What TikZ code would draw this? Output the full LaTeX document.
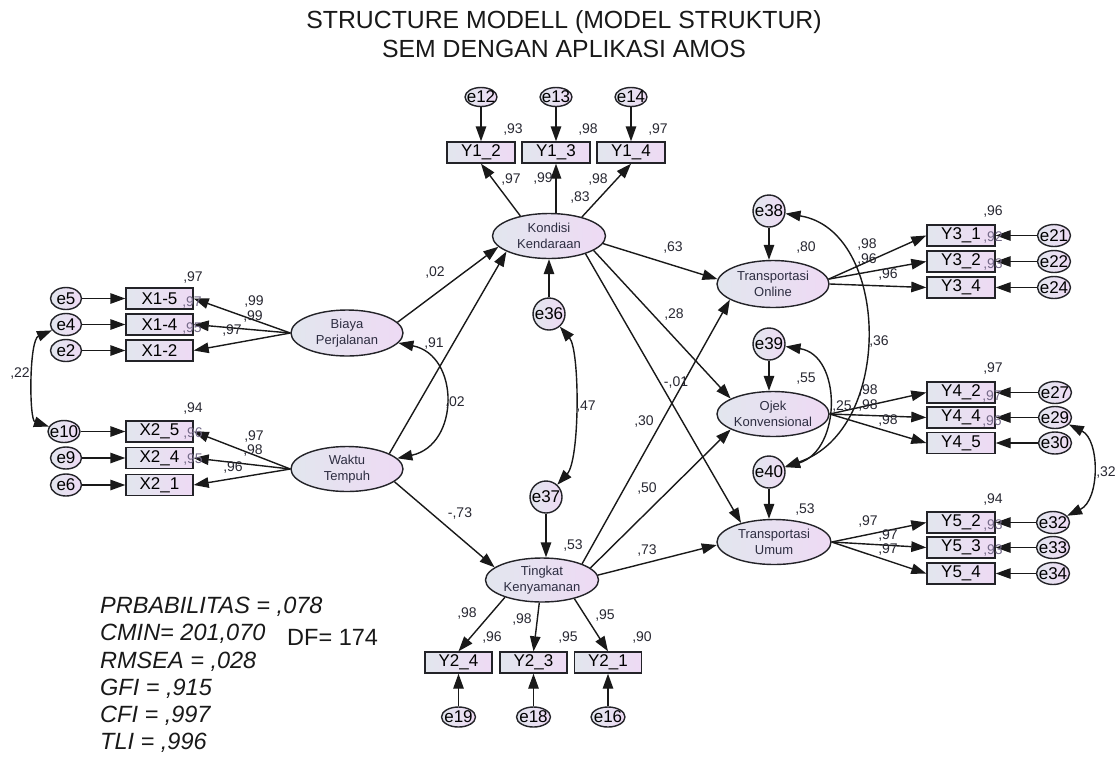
\documentclass[tikz,border=0pt]{standalone}
\usepackage{fontspec}
\setmainfont{Liberation Sans}
\usetikzlibrary{arrows.meta,shapes.geometric}
\definecolor{fillL}{RGB}{226,230,238}
\definecolor{fillR}{RGB}{238,218,244}
\definecolor{edge}{RGB}{35,35,40}
\definecolor{lbl}{RGB}{40,40,50}
\definecolor{latxt}{RGB}{45,45,65}
\definecolor{faint}{RGB}{115,105,135}
\begin{document}
\begin{tikzpicture}[x=1pt,y=-1pt,
  every node/.style={inner sep=0pt},
  obs/.style={rectangle,draw=edge,line width=1.4pt,left color=fillL,right color=fillR,
    minimum width=67pt,minimum height=21pt,font=\fontsize{17}{18}\selectfont},
  lat/.style={ellipse,draw=edge,line width=1.4pt,left color=fillL,right color=fillR,
    minimum width=112pt,minimum height=46pt,align=center,text=latxt,font=\fontsize{13}{16}\selectfont},
  err/.style={ellipse,draw=edge,line width=1.4pt,left color=fillL,right color=fillR,
    minimum width=32pt,minimum height=22pt,font=\fontsize{17}{17}\selectfont},
  errc/.style={err,minimum width=32pt,minimum height=32pt},
  num/.style={text=lbl,font=\fontsize{14}{14}\selectfont},
  fnum/.style={text=faint,font=\fontsize{14}{14}\selectfont},
  arr/.style={draw=black!90,line width=1.4pt,-{Triangle[length=15pt,width=10.5pt]}},
  cov/.style={draw=black!90,line width=1.4pt,{Triangle[length=15pt,width=10.5pt]}-{Triangle[length=15pt,width=10.5pt]}},
  stat/.style={anchor=west,font=\fontsize{23.5}{23.5}\selectfont\itshape,text=black!90}
]
\fill[white] (0,0) rectangle (1118,756);
\useasboundingbox (0,0) rectangle (1118,756);

% title
\node[font=\fontsize{24.8}{26}\selectfont,text=black!90] (t1) at (564,22) {STRUCTURE MODELL (MODEL STRUKTUR)};
\node[font=\fontsize{24.8}{26}\selectfont,text=black!90] (t2) at (564,49) {SEM DENGAN APLIKASI AMOS};

% latent variables
\node[lat] (BP) at (347,333) {Biaya\\Perjalanan};
\node[lat,minimum height=45pt] (WT) at (347,469) {Waktu\\Tempuh};
\node[lat,minimum width=113pt,minimum height=45pt] (KK) at (549,236) {Kondisi\\Kendaraan};
\node[lat,minimum width=113pt,minimum height=44pt] (TK) at (542,580) {Tingkat\\Kenyamanan};
\node[lat,minimum height=47pt] (TO) at (773,284) {Transportasi\\Online};
\node[lat,minimum height=45pt] (OK) at (773,414) {Ojek\\Konvensional};
\node[lat,minimum width=114pt,minimum height=45pt] (TU) at (774,542) {Transportasi\\Umum};

% left observed
\node[obs] (X15) at (159.5,298.5) {X1-5};
\node[obs] (X14) at (159.5,324.5) {X1-4};
\node[obs] (X12) at (159.5,350.5) {X1-2};
\node[obs] (X25) at (159.5,431.5) {X2\_5};
\node[obs] (X24) at (159.5,458) {X2\_4};
\node[obs] (X21) at (159.5,485) {X2\_1};
\node[err,minimum width=31pt] (e5) at (66,298.5) {\makebox[0pt]{e5}};
\node[err,minimum width=31pt] (e4) at (66,324.5) {\makebox[0pt]{e4}};
\node[err,minimum width=31pt] (e2) at (66,350.5) {\makebox[0pt]{e2}};
\node[err,minimum width=32pt] (e10) at (64,431.5) {\makebox[0pt]{e10}};
\node[err,minimum width=31pt] (e9) at (66,458) {\makebox[0pt]{e9}};
\node[err,minimum width=31pt] (e6) at (66,485) {\makebox[0pt]{e6}};

% top observed
\node[obs,minimum width=68pt] (Y12) at (481,152.5) {Y1\_2};
\node[obs,minimum width=68pt] (Y13) at (556,152.5) {Y1\_3};
\node[obs,minimum width=68pt] (Y14) at (631,152.5) {Y1\_4};
\node[err,minimum height=19pt] (e12) at (481,97) {\makebox[0pt]{e12}};
\node[err,minimum height=19pt] (e13) at (556,97) {\makebox[0pt]{e13}};
\node[err,minimum height=19pt] (e14) at (631,97) {\makebox[0pt]{e14}};

% bottom observed
\node[obs] (Y24) at (458.5,662.5) {Y2\_4};
\node[obs] (Y23) at (533.5,662.5) {Y2\_3};
\node[obs] (Y21) at (608,662.5) {Y2\_1};
\node[err,minimum width=34pt,minimum height=20pt] (e19) at (458.5,717) {\makebox[0pt]{e19}};
\node[err,minimum width=34pt,minimum height=20pt] (e18) at (533.5,717) {\makebox[0pt]{e18}};
\node[err,minimum width=34pt,minimum height=20pt] (e16) at (608,717) {\makebox[0pt]{e16}};

% structural errors
\node[errc] (e36) at (549,314) {\makebox[0pt]{e36}};
\node[errc] (e37) at (546,497) {\makebox[0pt]{e37}};
\node[errc] (e38) at (769,211) {\makebox[0pt]{e38}};
\node[errc] (e39) at (769,344) {\makebox[0pt]{e39}};
\node[errc] (e40) at (769,472) {\makebox[0pt]{e40}};

% right observed
\node[obs,minimum width=68pt] (Y31) at (961,235.5) {Y3\_1};
\node[obs,minimum width=68pt] (Y32) at (961,261.5) {Y3\_2};
\node[obs,minimum width=68pt] (Y34) at (961,287.5) {Y3\_4};
\node[obs,minimum width=68pt] (Y42) at (961,392.5) {Y4\_2};
\node[obs,minimum width=68pt] (Y44) at (961,417.5) {Y4\_4};
\node[obs,minimum width=68pt] (Y45) at (961,443) {Y4\_5};
\node[obs,minimum width=68pt] (Y52) at (961,522.5) {Y5\_2};
\node[obs,minimum width=68pt] (Y53) at (961,547.5) {Y5\_3};
\node[obs,minimum width=68pt] (Y54) at (961,573.5) {Y5\_4};
\node[err,minimum width=33pt] (e21) at (1054,235.5) {\makebox[0pt]{e21}};
\node[err,minimum width=33pt] (e22) at (1054,261.5) {\makebox[0pt]{e22}};
\node[err,minimum width=33pt] (e24) at (1054,287.5) {\makebox[0pt]{e24}};
\node[err,minimum width=33pt] (e27) at (1055,392.5) {\makebox[0pt]{e27}};
\node[err,minimum width=33pt] (e29) at (1055,417.5) {\makebox[0pt]{e29}};
\node[err,minimum width=33pt] (e30) at (1055,443) {\makebox[0pt]{e30}};
\node[err,minimum width=33pt] (e32) at (1053,522.5) {\makebox[0pt]{e32}};
\node[err,minimum width=33pt] (e33) at (1053,547.5) {\makebox[0pt]{e33}};
\node[err,minimum width=33pt] (e34) at (1053,573.5) {\makebox[0pt]{e34}};

% measurement arrows: left
\foreach \e/\x in {e5/X15,e4/X14,e2/X12,e10/X25,e9/X24,e6/X21} \draw[arr] (\e) -- (\x);
\foreach \x in {X15,X14,X12} \draw[arr] (BP.west) -- (\x.east);
\foreach \x in {X25,X24,X21} \draw[arr] (WT.west) -- (\x.east);
\draw[cov] (e4) .. controls (29,340) and (29,420) .. (e10);

% top
\foreach \e/\x in {e12/Y12,e13/Y13,e14/Y14} \draw[arr] (\e) -- (\x);
\draw[arr] (KK.145) -- (Y12.south);
\draw[arr] (Y13.south |- KK.north) -- (Y13.south);
\draw[arr] (KK.30) -- (Y14.south);

% bottom
\foreach \e/\x in {e19/Y24,e18/Y23,e16/Y21} \draw[arr] (\e) -- (\x);
\draw[arr] (TK.205) -- (Y24.north);
\draw[arr] (TK) -- (Y23.north);
\draw[arr] (TK.-30) -- (Y21.north);

% right
\foreach \e/\x in {e21/Y31,e22/Y32,e24/Y34,e27/Y42,e29/Y44,e30/Y45,e32/Y52,e33/Y53,e34/Y54} \draw[arr] (\e) -- (\x);
\draw[arr] (TO.5) -- (Y31.west);
\draw[arr] (TO.5) -- (Y32.west);
\draw[arr] (TO.east) -- (Y34.west);
\foreach \x in {Y42,Y44,Y45} \draw[arr] (OK.east) -- (\x.west);
\foreach \x in {Y52,Y53,Y54} \draw[arr] (TU.east) -- (\x.west);
\draw[cov] (e29) .. controls (1100,440) and (1100,500) .. (e32);

% structural
\draw[arr] (BP.12) -- (KK.192);
\draw[arr] (WT.20) -- (KK.200);
\draw[cov] (BP) .. controls (460,355) and (460,445) .. (WT);
\draw[arr] (WT.-15) -- (TK.165);
\draw[arr] (e36) -- (e36 |- KK.south);
\draw[cov] (e36) .. controls (580,350) and (580,460) .. (e37);
\draw[arr] (e37) -- (e37 |- TK.north);
\draw[arr] (KK.-8) -- (TO.175);
\draw[arr] (KK.-18) -- (OK.160);
\draw[arr] (KK.-26) -- (TU.150);
\draw[arr] (TK.22) -- (TO.200);
\draw[arr] (TK.14) -- (OK.200);
\draw[arr] (TK.5) -- (TU.183);
\draw[arr] (e38) -- (e38 |- TO.north);
\draw[arr] (e39) -- (e39 |- OK.north);
\draw[arr] (e40) -- (e40 |- TU.north);
\draw[cov] (e38) .. controls (890,230) and (895,430) .. (e40);
\draw[cov] (e39) .. controls (842,355) and (842,450) .. (e40);

% numbers left
\node[num] (l1) at (193,277) {,97};
\node[fnum] (l2) at (192,302) {,97};
\node[num] (l3) at (254,301) {,99};
\node[num] (l4) at (253,316) {,99};
\node[num] (l5) at (232,330) {,97};
\node[fnum] (l6) at (192,328) {,95};
\node[num] (l7) at (193,408) {,94};
\node[fnum] (l8) at (193,433) {,96};
\node[num] (l9) at (254,436) {,97};
\node[num] (l10) at (253,450) {,98};
\node[num] (l11) at (233,467) {,96};
\node[fnum] (l12) at (193,459) {,95};
\node[num] (l13) at (20,373) {,22};
% top
\node[num] (l14) at (513,130) {,93};
\node[num] (l15) at (588,130) {,98};
\node[num] (l16) at (658,130) {,97};
\node[num] (l17) at (511,180) {,97};
\node[num] (l18) at (543,179) {,99};
\node[num] (l19) at (598,180) {,98};
\node[num] (l20) at (580,198) {,83};
% structural
\node[num] (l21) at (435,272) {,02};
\node[num] (l22) at (434,343) {,91};
\node[num] (l23) at (455,402) {,02};
\node[num] (l24) at (586,407) {,47};
\node[num] (l25) at (673,247) {,63};
\node[num] (l26) at (674,314) {,28};
\node[num] (l27) at (676,382) {-,01};
\node[num] (l28) at (644,421) {,30};
\node[num] (l29) at (647,488) {,50};
\node[num] (l30) at (460,513) {-,73};
\node[num] (l31) at (573,545) {,53};
\node[num] (l32) at (647,550) {,73};
\node[num] (l33) at (806,247) {,80};
\node[num] (l34) at (806,379) {,55};
\node[num] (l35) at (805,509) {,53};
\node[num] (l36) at (879,341) {,36};
\node[num] (l37) at (842,406) {,25};
\node[num] (l38) at (1106,472) {,32};
% right
\node[num] (l39) at (993,212) {,96};
\node[fnum] (l40) at (993,238) {,92};
\node[fnum] (l41) at (993,264) {,93};
\node[num] (l42) at (867,245) {,98};
\node[num] (l43) at (867,259) {,96};
\node[num] (l44) at (888,274) {,96};
\node[num] (l45) at (993,368) {,97};
\node[fnum] (l46) at (992,396) {,97};
\node[fnum] (l47) at (992,421) {,96};
\node[num] (l48) at (868,390) {,98};
\node[num] (l49) at (868,405) {,98};
\node[num] (l50) at (888,420) {,98};
\node[num] (l51) at (993,499) {,94};
\node[fnum] (l52) at (993,525) {,93};
\node[fnum] (l53) at (993,550) {,93};
\node[num] (l54) at (868,521) {,97};
\node[num] (l55) at (888,535) {,97};
\node[num] (l56) at (888,549) {,97};
% bottom
\node[num] (l57) at (467,613) {,98};
\node[num] (l58) at (492,637) {,96};
\node[num] (l59) at (522,619) {,98};
\node[num] (l60) at (568,637) {,95};
\node[num] (l61) at (605,615) {,95};
\node[num] (l62) at (642,637) {,90};

% fit statistics
\node[stat] (s1) at (100,607) {PRBABILITAS = ,078};
\node[stat] (s2) at (100,634) {CMIN= 201,070};
\node[anchor=west,font=\fontsize{23.5}{23.5}\selectfont,text=black!90] (s2b) at (287,637) {DF= 174};
\node[stat] (s3) at (100,662) {RMSEA = ,028};
\node[stat] (s4) at (100,689) {GFI = ,915};
\node[stat] (s5) at (100,716) {CFI = ,997};
\node[stat] (s6) at (100,743) {TLI = ,996};
\end{tikzpicture}
\end{document}
